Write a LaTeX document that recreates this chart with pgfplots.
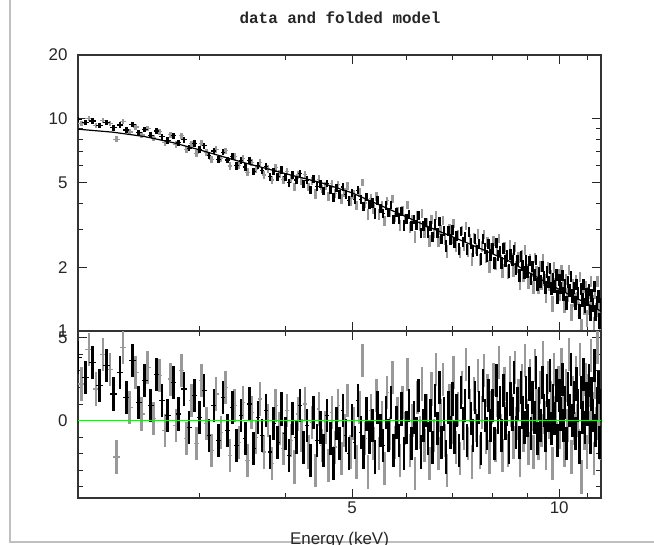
\documentclass[border=0pt]{standalone}
\usepackage{pgfplots}
\usepackage{pgfplotstable}
\pgfplotsset{compat=1.18}
\usepackage{fontspec}
\setmainfont{Liberation Sans}
\setmonofont{Liberation Mono}

\pgfplotstableread{
E y ey r
2.00 9.97 0.27 3.8
2.05 9.58 0.27 2.6
2.10 9.77 0.27 3.5
2.15 9.34 0.27 2.1
2.20 9.60 0.27 3.3
2.25 9.08 0.27 1.6
2.30 9.35 0.27 2.9
2.35 8.87 0.27 1.4
2.40 9.38 0.27 3.6
2.45 8.63 0.27 1.1
2.50 8.90 0.27 2.4
2.55 8.37 0.26 0.9
2.60 8.77 0.26 2.8
2.65 8.24 0.26 1.2
2.70 7.91 0.26 0.3
2.75 8.32 0.26 2.3
2.80 7.71 0.26 0.4
2.85 7.98 0.26 1.9
2.90 7.28 0.26 -0.4
2.95 7.65 0.26 1.5
3.00 7.20 0.26 0.2
3.05 7.48 0.24 1.8
3.10 6.72 0.24 -0.9
3.15 7.06 0.24 0.9
3.20 6.44 0.24 -1.2
3.25 6.97 0.24 1.4
3.30 6.40 0.24 -0.6
3.35 6.64 0.24 0.8
3.40 6.01 0.24 -1.5
3.45 6.35 0.24 0.3
3.50 5.93 0.24 -1.1
3.55 6.35 0.23 1.0
3.60 5.66 0.23 -1.7
3.65 6.03 0.23 0.2
3.70 5.70 0.23 -0.9
3.75 5.98 0.23 0.6
3.80 5.34 0.23 -1.9
3.85 5.66 0.23 -0.2
3.90 5.35 0.23 -1.3
3.95 5.74 0.23 0.7
4.00 5.34 0.23 -0.8
4.05 5.01 0.22 -2.1
4.10 5.44 0.22 0.1
4.15 5.15 0.22 -1.0
4.20 5.52 0.22 0.9
4.25 4.92 0.22 -1.6
4.30 5.14 0.22 -0.3
4.35 4.63 0.22 -2.4
4.40 5.22 0.22 0.5
4.45 4.80 0.22 -1.2
4.50 4.92 0.22 -0.4
4.55 4.58 0.21 -1.8
4.60 4.96 0.21 0.3
4.65 4.62 0.21 -1.1
4.70 4.25 0.21 -2.6
4.75 4.71 0.21 -0.2
4.80 4.40 0.21 -1.4
4.85 4.77 0.21 0.6
4.90 4.40 0.21 -0.9
4.95 4.11 0.21 -2.0
5.00 4.48 0.21 0.0
5.05 4.16 0.20 -1.3
5.10 4.61 0.20 1.2
5.15 4.17 0.20 -0.7
5.20 3.87 0.20 -1.9
5.25 4.28 0.20 0.4
5.30 3.94 0.20 -1.0
5.35 4.02 0.20 -0.3
5.40 3.58 0.20 -2.2
5.45 4.13 0.20 0.8
5.50 3.79 0.20 -0.6
5.55 3.59 0.18 -1.5
5.60 3.91 0.18 0.5
5.65 3.61 0.18 -0.9
5.70 3.93 0.18 1.1
5.75 3.36 0.18 -1.8
5.80 3.61 0.18 -0.1
5.85 3.37 0.18 -1.2
5.90 3.67 0.18 0.7
5.95 3.14 0.18 -2.0
6.00 3.38 0.18 -0.4
6.05 3.56 0.17 0.9
6.10 3.13 0.17 -1.4
6.15 3.37 0.17 0.2
6.20 3.16 0.17 -0.8
6.25 3.52 0.17 1.5
6.30 2.90 0.17 -1.9
6.35 3.13 0.17 -0.3
6.40 3.25 0.17 0.6
6.45 2.92 0.17 -1.1
6.50 3.12 0.17 0.3
6.55 2.78 0.16 -1.6
6.60 3.20 0.16 1.2
6.65 2.90 0.16 -0.5
6.70 3.27 0.16 2.0
6.75 2.72 0.16 -1.3
6.80 2.96 0.16 0.4
6.85 2.52 0.16 -2.2
6.90 2.97 0.16 0.8
6.95 2.70 0.16 -0.7
7.00 2.99 0.16 1.3
7.05 2.61 0.15 -1.0
7.10 2.82 0.15 0.6
7.15 2.44 0.15 -1.8
7.20 2.94 0.15 1.7
7.25 2.63 0.15 -0.2
7.30 2.77 0.15 0.9
7.35 2.43 0.15 -1.2
7.40 2.93 0.15 2.3
7.45 2.58 0.15 0.1
7.50 2.39 0.15 -0.9
7.55 2.71 0.145 1.4
7.60 2.40 0.145 -0.6
7.65 2.58 0.145 0.8
7.70 2.19 0.145 -1.7
7.75 2.72 0.145 2.1
7.80 2.44 0.145 0.3
7.85 2.26 0.145 -0.8
7.90 2.57 0.145 1.5
7.95 2.29 0.145 -0.3
8.00 2.44 0.145 0.9
8.05 2.09 0.14 -1.4
8.10 2.61 0.14 2.4
8.15 2.28 0.14 0.2
8.20 2.38 0.14 1.1
8.25 2.09 0.14 -0.9
8.30 2.45 0.14 1.8
8.35 2.15 0.14 -0.2
8.40 2.26 0.14 0.7
8.45 1.92 0.14 -1.6
8.50 2.30 0.14 1.3
8.55 2.15 0.13 0.4
8.60 2.42 0.13 2.6
8.65 1.96 0.13 -0.7
8.70 2.16 0.13 1.0
8.75 1.84 0.13 -1.3
8.80 2.25 0.13 2.0
8.85 2.04 0.13 0.5
8.90 1.89 0.13 -0.4
8.95 2.14 0.13 1.7
9.00 1.90 0.13 0.0
9.05 2.14 0.12 2.2
9.10 1.76 0.12 -0.8
9.15 2.02 0.12 1.4
9.20 1.85 0.12 0.2
9.25 2.16 0.12 2.9
9.30 1.66 0.12 -1.1
9.35 1.89 0.12 1.0
9.40 1.72 0.12 -0.3
9.45 2.02 0.12 2.3
9.50 1.79 0.12 0.6
9.55 1.61 0.115 -0.9
9.60 1.90 0.115 1.8
9.65 1.71 0.115 0.3
9.70 1.97 0.115 2.7
9.75 1.59 0.115 -0.5
9.80 1.77 0.115 1.2
9.85 1.63 0.115 0.1
9.90 1.84 0.115 2.1
9.95 1.45 0.115 -1.2
10.00 1.74 0.115 1.5
10.05 1.60 0.11 0.4
10.10 1.83 0.11 2.5
10.15 1.50 0.11 -0.3
10.20 1.64 0.11 1.1
10.25 1.36 0.11 -1.4
10.30 1.71 0.11 1.9
10.35 1.56 0.11 0.6
10.40 1.81 0.11 3.1
10.45 1.46 0.11 0.0
10.50 1.60 0.11 1.4
10.55 1.36 0.105 -0.8
10.60 1.66 0.105 2.2
10.65 1.51 0.105 0.9
10.70 1.24 0.105 -1.6
10.75 1.58 0.105 1.7
10.80 1.40 0.105 0.2
10.85 1.66 0.105 2.8
10.90 1.32 0.105 -0.4
10.95 1.49 0.105 1.3
11.00 1.41 0.105 0.7
11.05 1.57 0.10 2.4
11.10 1.22 0.10 -1.0
11.15 1.47 0.10 1.6
11.20 1.33 0.10 0.3
11.25 1.62 0.10 3.3
11.30 1.22 0.10 -0.6
11.35 1.37 0.10 1.0
11.40 1.46 0.10 2.0
11.45 1.12 0.10 -1.3
11.50 1.33 0.10 0.9
}\blackT

\pgfplotstableread{
E y ey r
2.025 9.50 0.27 2.2
2.075 10.01 0.27 4.3
2.125 9.31 0.27 1.9
2.175 9.82 0.27 4.0
2.225 9.52 0.27 3.1
2.275 8.02 0.27 -2.2
2.325 9.72 0.27 4.4
2.375 8.67 0.27 0.8
2.425 9.15 0.27 2.9
2.475 8.40 0.27 0.4
2.525 9.03 0.26 3.2
2.575 8.12 0.26 0.1
2.625 8.69 0.26 2.7
2.675 7.72 0.26 -0.6
2.725 8.42 0.26 2.5
2.775 7.58 0.26 -0.3
2.825 8.33 0.26 3.0
2.875 7.15 0.26 -1.1
2.925 7.63 0.26 1.2
2.975 6.85 0.26 -1.4
3.025 7.68 0.24 2.4
3.075 6.94 0.24 -0.2
3.125 6.46 0.24 -1.8
3.175 7.17 0.24 1.6
3.225 6.51 0.24 -0.7
3.275 7.07 0.24 2.0
3.325 6.00 0.24 -2.1
3.375 6.63 0.24 0.9
3.425 6.02 0.24 -1.3
3.475 6.50 0.24 1.1
3.525 5.61 0.23 -2.4
3.575 6.21 0.23 0.5
3.625 5.79 0.23 -1.0
3.675 6.25 0.23 1.3
3.725 5.44 0.23 -1.9
3.775 5.81 0.23 0.0
3.825 5.15 0.23 -2.6
3.875 5.89 0.23 0.9
3.925 5.50 0.23 -0.5
3.975 5.16 0.23 -1.7
4.025 5.63 0.22 0.6
4.075 5.19 0.22 -1.2
4.125 4.78 0.22 -2.8
4.175 5.44 0.22 0.4
4.225 5.10 0.22 -0.9
4.275 5.46 0.22 1.0
4.325 4.77 0.22 -1.9
4.375 5.12 0.22 -0.1
4.425 4.43 0.22 -3.0
4.475 5.19 0.22 0.7
4.525 4.67 0.21 -1.5
4.575 4.85 0.21 -0.4
4.625 4.31 0.21 -2.7
4.675 4.94 0.21 0.5
4.725 4.44 0.21 -1.6
4.775 4.91 0.21 0.9
4.825 4.19 0.21 -2.3
4.875 4.49 0.21 -0.6
4.925 4.81 0.21 1.2
4.975 4.11 0.21 -1.9
5.025 4.41 0.20 -0.2
5.075 3.90 0.20 -2.5
5.125 4.50 0.20 0.8
5.175 5.00 0.20 3.6
5.225 4.01 0.20 -1.1
5.275 3.55 0.20 -3.1
5.325 4.23 0.20 0.6
5.375 3.77 0.20 -1.4
5.425 4.30 0.20 1.5
5.475 3.54 0.20 -2.0
5.525 3.93 0.18 0.2
5.575 3.32 0.18 -2.9
5.625 4.11 0.18 1.7
5.675 3.61 0.18 -0.8
5.725 4.18 0.18 2.6
5.775 3.43 0.18 -1.3
5.825 3.68 0.18 0.4
5.875 3.14 0.18 -2.4
5.925 3.72 0.18 1.1
5.975 3.39 0.18 -0.5
6.025 3.91 0.17 2.8
6.075 3.08 0.17 -1.8
6.125 3.36 0.17 0.0
6.175 2.78 0.17 -3.2
6.225 3.52 0.17 1.4
6.275 3.12 0.17 -0.7
6.325 3.57 0.17 2.2
6.375 2.91 0.17 -1.5
6.425 3.23 0.17 0.6
6.475 2.65 0.17 -2.6
6.525 3.36 0.16 1.9
6.575 2.89 0.16 -0.9
6.625 3.50 0.16 3.1
6.675 2.65 0.16 -2.0
6.725 2.99 0.16 0.3
6.775 3.32 0.16 2.5
6.825 2.70 0.16 -1.2
6.875 2.38 0.16 -3.0
6.925 3.02 0.16 1.2
6.975 2.74 0.16 -0.4
7.025 3.21 0.15 2.9
7.075 2.51 0.15 -1.6
7.125 2.83 0.15 0.7
7.175 2.35 0.15 -2.3
7.225 2.97 0.15 2.0
7.275 2.53 0.15 -0.8
7.325 3.13 0.15 3.4
7.375 2.39 0.15 -1.4
7.425 2.71 0.15 0.9
7.475 2.17 0.15 -2.5
7.525 2.75 0.145 1.6
7.575 2.46 0.145 -0.3
7.625 2.87 0.145 2.7
7.675 2.17 0.145 -1.9
7.725 2.50 0.145 0.5
7.775 2.85 0.145 3.0
7.825 2.24 0.145 -1.0
7.875 2.63 0.145 1.8
7.925 2.02 0.145 -2.2
7.975 2.44 0.145 0.8
8.025 2.65 0.14 2.5
8.075 2.07 0.14 -1.5
8.125 2.43 0.14 1.2
8.175 2.73 0.14 3.5
8.225 2.14 0.14 -0.6
8.275 1.92 0.14 -2.1
8.325 2.50 0.14 2.2
8.375 2.18 0.14 0.1
8.425 1.90 0.14 -1.8
8.475 2.54 0.14 2.9
8.525 2.19 0.13 0.6
8.575 1.92 0.13 -1.3
8.625 2.49 0.13 3.2
8.675 2.01 0.13 -0.2
8.725 2.22 0.13 1.5
8.775 1.69 0.13 -2.4
8.825 2.29 0.13 2.4
8.875 1.84 0.13 -0.9
8.925 2.40 0.13 3.6
8.975 1.95 0.13 0.3
9.025 1.69 0.12 -1.7
9.075 2.19 0.12 2.7
9.125 1.91 0.12 0.4
9.175 1.61 0.12 -1.9
9.225 2.22 0.12 3.3
9.275 1.91 0.12 0.9
9.325 1.61 0.12 -1.4
9.375 2.01 0.12 2.0
9.425 1.68 0.12 -0.6
9.475 2.19 0.12 3.8
9.525 1.74 0.115 0.2
9.575 1.47 0.115 -2.0
9.625 1.99 0.115 2.6
9.675 1.66 0.115 -0.1
9.725 1.82 0.115 1.4
9.775 1.34 0.115 -2.6
9.825 1.99 0.115 3.1
9.875 1.67 0.115 0.5
9.925 1.47 0.115 -1.1
9.975 1.84 0.115 2.3
10.025 1.49 0.11 -0.7
10.075 1.93 0.11 3.4
10.125 1.63 0.11 0.8
10.175 1.33 0.11 -1.8
10.225 1.75 0.11 2.1
10.275 1.48 0.11 -0.3
10.325 1.94 0.11 4.0
10.375 1.55 0.11 0.6
10.425 1.23 0.11 -2.2
10.475 1.65 0.11 1.7
10.525 1.40 0.105 -0.5
10.575 1.74 0.105 2.9
10.625 1.43 0.105 0.0
10.675 1.26 0.105 -1.5
10.725 1.80 0.105 3.7
10.775 1.03 0.105 -3.4
10.825 1.52 0.105 1.3
10.875 1.29 0.105 -0.8
10.925 1.62 0.105 2.5
10.975 1.15 0.105 -1.9
11.025 1.52 0.10 1.8
11.075 1.29 0.10 -0.4
11.125 1.71 0.10 3.9
11.175 1.38 0.10 0.7
11.225 1.07 0.10 -2.3
11.275 1.52 0.10 2.3
11.325 1.26 0.10 -0.2
11.375 1.71 0.10 4.4
11.425 1.31 0.10 0.5
11.475 1.11 0.10 -1.4
}\grayT

\pgfplotstableread{
E m
2.00 8.94
2.25 8.65
2.50 8.25
2.75 7.72
3.00 7.15
3.25 6.63
3.50 6.19
3.75 5.84
4.00 5.52
4.50 5.01
5.00 4.48
5.50 3.91
6.00 3.45
6.50 3.07
7.00 2.78
7.50 2.53
8.00 2.31
8.50 2.12
9.00 1.90
9.50 1.72
10.00 1.57
10.50 1.45
11.00 1.34
11.50 1.24
}\modelT

\definecolor{grayd}{gray}{0.6}
\definecolor{zerogreen}{RGB}{40,225,40}

\begin{document}
\begin{tikzpicture}
\useasboundingbox (0,0) rectangle (654bp,-545bp);
\draw[black!25, line width=1.5bp] (10bp,0) -- (10bp,-542bp) -- (654bp,-542bp);

\node[font=\fontsize{16}{16}\selectfont\ttfamily\bfseries, text=black!85, anchor=base] at (340bp,-23bp) {data and folded model};

\begin{axis}[scale only axis, width=523bp, height=276bp,
  at={(78bp,-55bp)}, anchor=north west,
  xmode=log, xmin=2, xmax=11.5,
  ymode=log, ymin=1, ymax=20,
  axis line style={line width=1.1bp, black!80},
  tick align=inside,
  major tick length=9bp, minor tick length=5bp,
  every tick/.append style={black!85, line width=0.9bp},
  xtick={5,10}, minor xtick={3,4,6,7,8,9,11},
  xticklabels={,,},
  ytick={1,2,5,10,20}, yticklabels={1,2,5,10,20},
  minor ytick={3,4,6,7,8,9},
  tick label style={font=\fontsize{17}{17}\selectfont, text=black!85},
  yticklabel style={xshift=-7bp}]
  % gray data group: vertical error bars, then channel-width bars
  \addplot[draw=none, mark=none,
    error bars/y dir=both, error bars/y explicit,
    error bars/error mark=none,
    error bars/error bar style={draw=grayd, line width=2.5bp}]
    table[x=E, y=y, y error=ey] {\grayT};
  \addplot[draw=none, mark=none,
    error bars/x dir=both, error bars/x fixed=0.025,
    error bars/error mark=none,
    error bars/error bar style={draw=grayd, line width=1.2bp}]
    table[x=E, y=y] {\grayT};
  % black data group
  \addplot[draw=none, mark=none,
    error bars/y dir=both, error bars/y explicit,
    error bars/error mark=none,
    error bars/error bar style={draw=black, line width=2.6bp}]
    table[x=E, y=y, y error=ey] {\blackT};
  \addplot[draw=none, mark=none,
    error bars/x dir=both, error bars/x fixed=0.025,
    error bars/error mark=none,
    error bars/error bar style={draw=black, line width=1.2bp}]
    table[x=E, y=y] {\blackT};
  \addplot[black, line width=1.2bp, mark=none] table[x=E, y=m] {\modelT};
\end{axis}

\begin{axis}[scale only axis, width=523bp, height=167bp,
  at={(78bp,-331bp)}, anchor=north west,
  xmode=log, xmin=2, xmax=11.5,
  ymin=-4.67, ymax=5.4,
  axis line style={line width=1.1bp, black!80},
  tick align=inside,
  major tick length=9bp, minor tick length=5bp,
  every tick/.append style={black!85, line width=0.9bp},
  xtick={5,10}, minor xtick={3,4,6,7,8,9,11},
  xticklabels={5,10},
  ytick={0,5}, yticklabels={0,5},
  minor ytick={-4,-3,-2,-1,1,2,3,4},
  tick label style={font=\fontsize{17}{17}\selectfont, text=black!85},
  yticklabel style={xshift=-7bp},
  xlabel={Energy (keV)},
  xlabel style={font=\fontsize{17}{17}\selectfont, text=black!85, at={(0.5,0)}, anchor=base, yshift=-46bp}]
  \addplot[draw=none, mark=none,
    error bars/y dir=both, error bars/y fixed=1,
    error bars/error mark=none,
    error bars/error bar style={draw=grayd, line width=2.5bp}]
    table[x=E, y=r] {\grayT};
  \addplot[draw=none, mark=none,
    error bars/x dir=both, error bars/x fixed=0.025,
    error bars/error mark=none,
    error bars/error bar style={draw=grayd, line width=1.2bp}]
    table[x=E, y=r] {\grayT};
  \addplot[draw=none, mark=none,
    error bars/y dir=both, error bars/y fixed=1,
    error bars/error mark=none,
    error bars/error bar style={draw=black, line width=2.6bp}]
    table[x=E, y=r] {\blackT};
  \addplot[draw=none, mark=none,
    error bars/x dir=both, error bars/x fixed=0.025,
    error bars/error mark=none,
    error bars/error bar style={draw=black, line width=1.2bp}]
    table[x=E, y=r] {\blackT};
  \addplot[zerogreen, line width=1.3bp, mark=none] coordinates {(2,0) (11.5,0)};
\end{axis}
\end{tikzpicture}
\end{document}
